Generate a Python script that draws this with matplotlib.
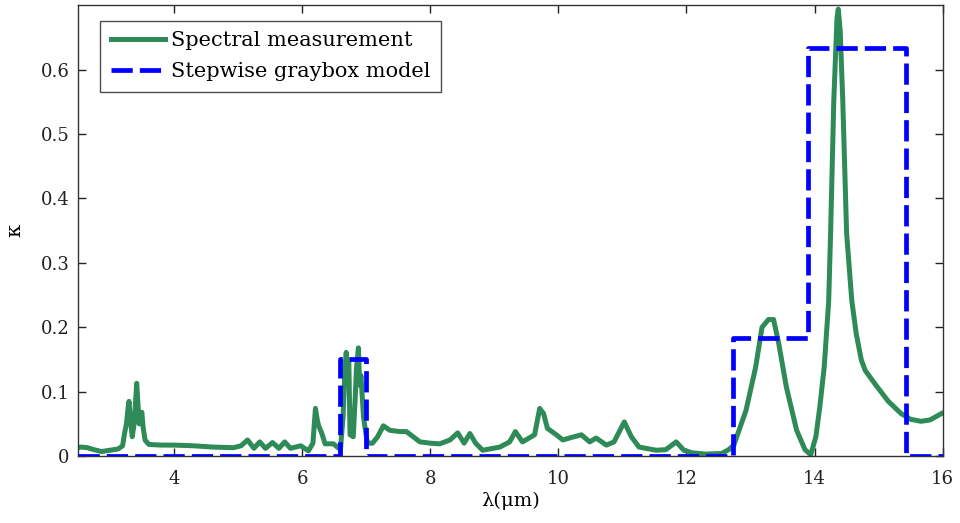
import matplotlib
matplotlib.use("Agg")
import matplotlib.pyplot as plt
import numpy as np

# Measured absorption coefficient spectrum
wavelength_um = [
    2.50, 2.55, 2.65, 2.75, 2.87, 3.00, 3.13, 3.20, 3.23, 3.26, 3.28, 3.30,
    3.32, 3.35, 3.38, 3.40, 3.42, 3.44, 3.46, 3.48, 3.50, 3.52, 3.55, 3.61,
    3.80, 4.00, 4.30, 4.60, 4.93, 5.05, 5.15, 5.25, 5.34, 5.43, 5.54, 5.64,
    5.73, 5.82, 5.98, 6.10, 6.17, 6.21, 6.24, 6.26, 6.31, 6.36, 6.49, 6.60,
    6.64, 6.67, 6.69, 6.71, 6.73, 6.75, 6.80, 6.83, 6.85, 6.88, 6.90, 6.92,
    6.96, 7.02,
    7.10, 7.18, 7.27, 7.37, 7.53, 7.63, 7.84, 8.00, 8.15, 8.31, 8.43, 8.53,
    8.62, 8.71, 8.82, 9.09, 9.24, 9.33, 9.44, 9.63, 9.71, 9.77, 9.83, 9.97,
    10.07, 10.21, 10.36, 10.49, 10.59, 10.75, 10.87, 11.03, 11.14, 11.26,
    11.53, 11.68, 11.84, 11.96, 12.09, 12.30, 12.55, 12.66, 12.74, 12.93,
    13.08, 13.18, 13.28, 13.36, 13.44, 13.56, 13.72, 13.85, 13.94, 14.02,
    14.08, 14.15, 14.22, 14.25, 14.30, 14.35, 14.37, 14.40, 14.44, 14.50,
    14.58, 14.65, 14.73, 14.79, 14.95, 15.15, 15.35, 15.50, 15.66, 15.80,
    15.98,
]
kappa_measured = [
    0.013, 0.014, 0.013, 0.010, 0.007, 0.009, 0.011, 0.016, 0.035, 0.050, 0.070, 0.085,
    0.060, 0.030, 0.050, 0.080, 0.113, 0.080, 0.050, 0.060, 0.068, 0.045, 0.025, 0.018,
    0.017, 0.017, 0.016, 0.014, 0.013, 0.016, 0.025, 0.012, 0.022, 0.012, 0.021, 0.012,
    0.022, 0.012, 0.016, 0.008, 0.020, 0.074, 0.055, 0.047, 0.035, 0.019, 0.019, 0.010,
    0.060, 0.133, 0.161, 0.110, 0.150, 0.033, 0.030, 0.090, 0.136, 0.168, 0.110, 0.125,
    0.060, 0.020,
    0.020, 0.030, 0.047, 0.040, 0.038, 0.038, 0.022, 0.020, 0.019, 0.025, 0.036, 0.020,
    0.035, 0.020, 0.009, 0.014, 0.022, 0.038, 0.022, 0.033, 0.074, 0.066, 0.043, 0.033,
    0.025, 0.029, 0.033, 0.022, 0.028, 0.017, 0.022, 0.053, 0.030, 0.014,
    0.009, 0.010, 0.022, 0.009, 0.005, 0.003, 0.004, 0.010, 0.017, 0.071,
    0.138, 0.200, 0.212, 0.212, 0.175, 0.107, 0.040, 0.010, 0.002, 0.030,
    0.075, 0.138, 0.240, 0.346, 0.552, 0.680, 0.694, 0.660, 0.552, 0.346,
    0.242, 0.190, 0.149, 0.133, 0.111, 0.085, 0.066, 0.057, 0.054, 0.056,
    0.066,
]

# Stepwise gray-box model: band edges and band absorption coefficients
band_edges_um = [2.5, 6.6, 7.0, 12.72, 13.9, 15.43, 16.0]
band_kappa = [0.0, 0.15, 0.0, 0.183, 0.633, 0.0]

x_ticks = [4, 6, 8, 10, 12, 14, 16]
y_ticks = [0, 0.1, 0.2, 0.3, 0.4, 0.5, 0.6]
y_tick_labels = ["0", "0.1", "0.2", "0.3", "0.4", "0.5", "0.6"]

serif = "DejaVu Serif"
plt.rcParams["font.family"] = serif

fig = plt.figure(figsize=(9.6, 5.23), dpi=100)
ax = fig.add_axes([0.081, 0.128, 0.901, 0.862])

ax.plot(wavelength_um, kappa_measured, color="#2e8b57", lw=3.6,
        label="Spectral measurement", zorder=2)

step_x = band_edges_um
step_y = band_kappa + [band_kappa[-1]]
ax.step(step_x, step_y, where="post", color="#0000ff", lw=3.4,
        linestyle=(0, (4.5, 1.5)), label="Stepwise graybox model", zorder=3)

ax.set_xlim(2.5, 16)
ax.set_ylim(0, 0.7)
ax.set_xticks(x_ticks)
ax.set_xticklabels([str(t) for t in x_ticks])
ax.set_yticks(y_ticks)
ax.set_yticklabels(y_tick_labels)
ax.tick_params(direction="in", length=6, width=1, top=True, right=True,
               labelsize=13, colors="#222222")
ax.tick_params(axis="x", pad=10)
ax.tick_params(axis="y", pad=6)
for s in ax.spines.values():
    s.set_linewidth(1.0)
    s.set_color("#333333")

ax.set_xlabel("λ(μm)", fontsize=14, labelpad=3)
ax.set_ylabel("κ", fontsize=15)
ax.yaxis.set_label_coords(-0.062, 0.5)

leg = ax.legend(loc="upper left", bbox_to_anchor=(0.026, 0.966), fontsize=15,
                frameon=True, fancybox=False, edgecolor="#222222",
                handlelength=2.6, handletextpad=0.3, borderpad=0.5,
                labelspacing=0.6, borderaxespad=0.0)
leg.get_frame().set_linewidth(1.0)

fig.savefig("out.png", dpi=100)
